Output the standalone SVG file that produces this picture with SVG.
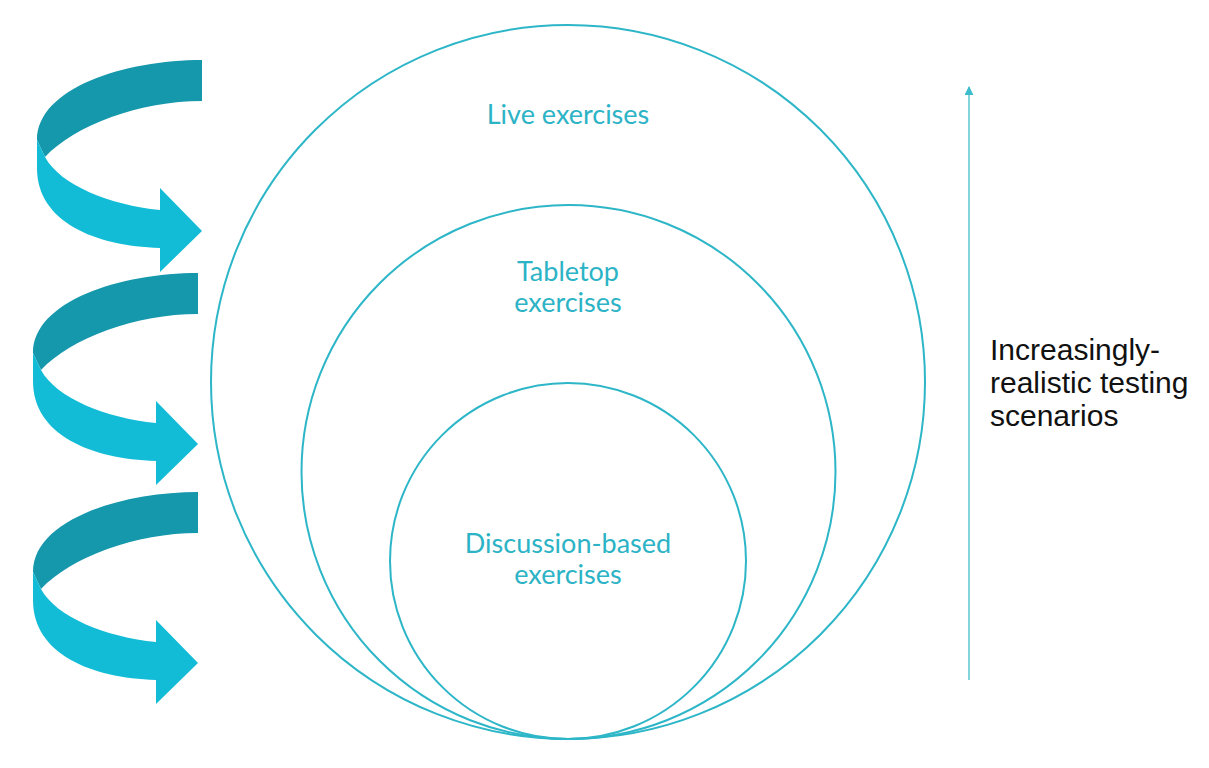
<svg xmlns="http://www.w3.org/2000/svg" width="1209" height="768" viewBox="0 0 1209 768">
<defs>
<style>
.ring{fill:none;stroke:#2DB6C7;stroke-width:2}
.lbl{font-family:Lato,"Open Sans","Liberation Sans",sans-serif;font-size:27px;fill:#2CB3C6;text-anchor:middle}
.side{font-family:"Liberation Sans",Arial,sans-serif;font-size:30px;fill:#111}
.dark{fill:#1597AC}
.light{fill:#13BCD6}
</style>
<marker id="ah" viewBox="0 0 10 10" refX="9" refY="5" markerWidth="9" markerHeight="9" orient="auto" markerUnits="userSpaceOnUse">
<path d="M0,0 L10,5 L0,10 Z" fill="#3DBCCB"/>
</marker>
<g id="swirl">
<path class="dark" d="M202,60 C125,60 37,88 37,140 L45,157 C75,125 140,101 202,101 Z"/>
<path class="light" d="M37,140 L37,168 C37,222 95,246 160,248 L160,272 L202,231 L160,188 L160,210 C110,205 60,185 45,157 Z"/>
</g>
</defs>
<rect width="1209" height="768" fill="#ffffff"/>
<g id="cycle-arrows">
<use href="#swirl"/>
<use href="#swirl" transform="translate(-4,213)"/>
<use href="#swirl" transform="translate(-4,432)"/>
</g>
<g id="live">
<circle class="ring" cx="568" cy="382" r="357"/>
<text class="lbl" x="568" y="124">Live exercises</text>
</g>
<g id="tabletop">
<circle class="ring" cx="568.5" cy="472" r="267"/>
<text class="lbl" x="568" y="281">Tabletop</text>
<text class="lbl" x="568" y="312">exercises</text>
</g>
<g id="discussion">
<circle class="ring" cx="568" cy="561" r="178"/>
<text class="lbl" x="568" y="553">Discussion-based</text>
<text class="lbl" x="568" y="584">exercises</text>
</g>
<g id="connectors">
<line x1="969" y1="680" x2="969" y2="87" stroke="#5CC4D0" stroke-width="1.5" marker-end="url(#ah)"/>
</g>
<g id="scale-label">
<text class="side" x="990" y="360">Increasingly-</text>
<text class="side" x="990" y="393">realistic testing</text>
<text class="side" x="990" y="426">scenarios</text>
</g>
</svg>
